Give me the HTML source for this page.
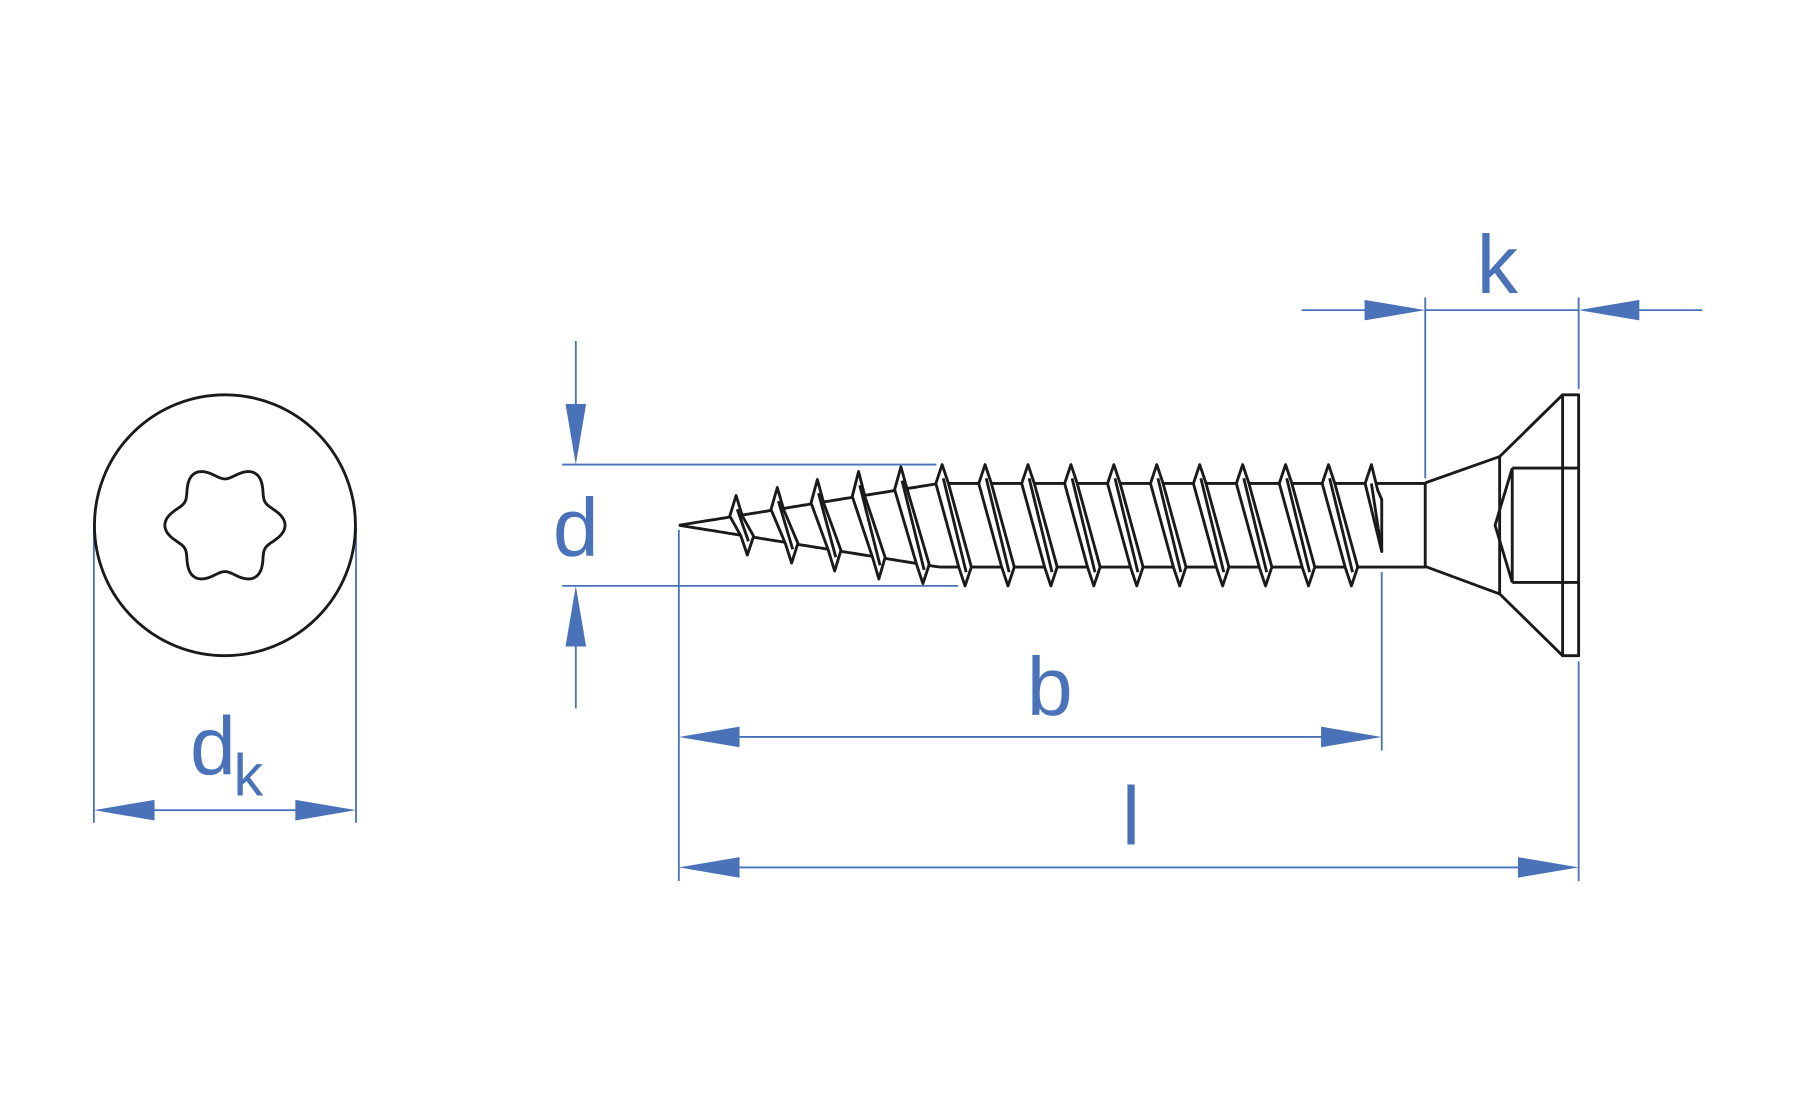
<!DOCTYPE html>
<html><head><meta charset="utf-8"><style>html,body{margin:0;padding:0;background:#fff}svg{display:block}</style></head>
<body>
<svg id="s" width="1795" height="1110" viewBox="0 0 1568 970" preserveAspectRatio="none" xmlns="http://www.w3.org/2000/svg">
<g fill="none" stroke="#4a72b8" stroke-width="1.6">
<line x1="82" y1="462" x2="82" y2="719"/><line x1="311" y1="462" x2="311" y2="719"/>
<line x1="130" y1="708" x2="262" y2="708"/>
<line x1="503" y1="298" x2="503" y2="360"/><line x1="503" y1="560" x2="503" y2="619"/>
<line x1="491" y1="406" x2="818" y2="406"/><line x1="491" y1="512" x2="837" y2="512"/>
<line x1="593" y1="463" x2="593" y2="770"/><line x1="1207" y1="500" x2="1207" y2="656"/>
<line x1="640" y1="644" x2="1160" y2="644"/>
<line x1="640" y1="758" x2="1330" y2="758"/>
<line x1="1379" y1="578" x2="1379" y2="770"/>
<line x1="1245" y1="260" x2="1245" y2="418"/><line x1="1379" y1="260" x2="1379" y2="340"/>
<line x1="1137" y1="271" x2="1200" y2="271"/><line x1="1245" y1="271" x2="1379" y2="271"/><line x1="1425" y1="271" x2="1487" y2="271"/>
</g>
<g fill="#4a72b8">
<polygon points="82,708 135,699 135,717"/><polygon points="311,708 258,699 258,717"/>
<polygon points="503,406 494,353 512,353"/><polygon points="503,512 494,565 512,565"/>
<polygon points="593,644 646,635 646,653"/><polygon points="1207,644 1154,635 1154,653"/>
<polygon points="593,758 646,749 646,767"/><polygon points="1379,758 1326,749 1326,767"/>
<polygon points="1245,271 1192,262 1192,280"/><polygon points="1379,271 1432,262 1432,280"/>
</g>
<g fill="#4a72b8" font-family="Liberation Sans, sans-serif" font-size="72">
<text x="166" y="677">d</text><text x="204" y="695" font-size="52">k</text>
<text x="483" y="486">d</text>
<text x="897" y="625">b</text>
<text x="980" y="738">l</text>
<text x="1290" y="256">k</text>
</g>
<g id="blk" fill="none" stroke="#1a1a1a" stroke-width="2.5" stroke-linejoin="round">
<circle cx="196.5" cy="459" r="114"/>
<path id="tx"/>
<path d="M1245,422 L1310,399 L1365,345 M1245,495 L1310,519 L1365,573 M1245,422 V495 M1310,399 V519"/>
<rect x="1365" y="345" width="14" height="228"/>
<path d="M1321,409 H1379 M1321,509 H1379 M1321,409 V509 M1321,409 L1306,459 L1321,509"/>
</g>
</svg>
<script>
(function(){
var NS="http://www.w3.org/2000/svg",g=document.getElementById("blk");
var d="",cx=196.5,cy=459,N=360;
for(var i=0;i<=N;i++){var a=i/N*2*Math.PI;var r=46.5+6*Math.cos(6*a);var x=cx+r*Math.cos(a),y=cy+r*Math.sin(a);d+=(i?"L":"M")+x.toFixed(2)+","+y.toFixed(2);}
document.getElementById("tx").setAttribute("d",d+"Z");
function hc(x){return x>=820?36.5:36.5*(x-593)/227;}
var top="M593,459",bot="M593,459";
for(var x=593;x<=1245;x+=4){top+="L"+x+","+(459-hc(x)).toFixed(1);bot+="L"+x+","+(459+hc(x)).toFixed(1);}
var p=document.createElementNS(NS,"path");p.setAttribute("d",top+"L1245,422 "+bot+"L1245,495");g.insertBefore(p,g.firstChild);
var cr=[[643,26],[679,33],[714,40],[750,47],[787,51]];
for(var c=823;c<1210;c+=37.5)cr.push([c,53]);
cr.forEach(function(e){var c=e[0],ho=e[1],s=20*ho/53,ct=459-hc(c),cb=459+hc(c+s),w=5.5;
var pts=[[c-w,ct],[c,459-ho],[c+w,ct],[c+s+w,cb],[c+s,459+ho],[c+s-w,cb]];
if(c>1190){pts=[[c-w,ct],[c,459-ho],[c+w,ct+6],[1207,ct+14],[1207,482]];}
var pg=document.createElementNS(NS,"polygon");pg.setAttribute("fill","#fff");
pg.setAttribute("points",pts.map(function(q){return q[0].toFixed(1)+","+q[1].toFixed(1)}).join(" "));g.appendChild(pg);
if(c<=1190){var l=document.createElementNS(NS,"line");l.setAttribute("x1",c+1);l.setAttribute("y1",459-ho+12);l.setAttribute("x2",c+s+1);l.setAttribute("y2",459+ho-12);g.appendChild(l);}
else{var l2=document.createElementNS(NS,"line");l2.setAttribute("x1",c);l2.setAttribute("y1",ct);l2.setAttribute("x2",1207);l2.setAttribute("y2",482);g.appendChild(l2);}
});
})();
</script>
</body></html>
